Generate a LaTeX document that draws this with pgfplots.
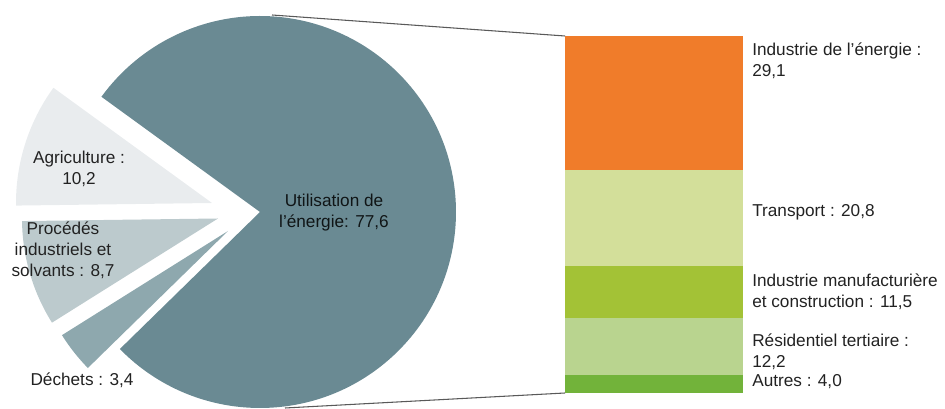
\documentclass[border=0pt]{standalone}
\usepackage{pgfplots}
\pgfplotsset{compat=1.18}
\usepackage{fontspec}
\setmainfont{Liberation Sans}
\definecolor{cMain}{HTML}{6A8A93}
\definecolor{cAgri}{HTML}{E9ECEE}
\definecolor{cProc}{HTML}{BCCACD}
\definecolor{cDech}{HTML}{8EA8AE}
\definecolor{cEner}{HTML}{F07C2A}
\definecolor{cTran}{HTML}{D3DF9A}
\definecolor{cManu}{HTML}{A3C236}
\definecolor{cResi}{HTML}{B9D48F}
\definecolor{cAutr}{HTML}{72B33A}
\definecolor{cText}{HTML}{222222}
\newcommand{\lbl}{\fontsize{12.9}{15.75}\selectfont}
\begin{document}
\begin{tikzpicture}
% pie values
\pgfmathsetmacro{\tot}{77.6+10.2+8.7+3.4}
\pgfmathsetmacro{\aA}{144}
\pgfmathsetmacro{\aB}{\aA+10.2/\tot*360}
\pgfmathsetmacro{\aC}{\aB+8.7/\tot*360}
\pgfmathsetmacro{\aD}{\aC+3.4/\tot*360}
\pgfmathsetmacro{\aE}{\aD+77.6/\tot*360}
\begin{axis}[x=0.75pt, y=0.75pt, xmin=0, xmax=945, ymin=0, ymax=409,
  hide axis, clip=false]
% connector lines
\draw[color=black!65, line width=0.8pt] (axis cs:272,394) -- (axis cs:565,373);
\draw[color=black!65, line width=0.8pt] (axis cs:285,1) -- (axis cs:565,16);
% pie slices
\fill[overlay, cMain] (axis cs:260,197) -- ++(\aD:147pt) arc[start angle=\aD, end angle=\aE, radius=147pt] -- cycle;
\fill[overlay, cAgri] (axis cs:212,206) -- ++(\aA:147pt) arc[start angle=\aA, end angle=\aB, radius=147pt] -- cycle;
\fill[overlay, cProc] (axis cs:218,190.5) -- ++(\aB:147pt) arc[start angle=\aB, end angle=\aC, radius=147pt] -- cycle;
\fill[overlay, cDech] (axis cs:228,178) -- ++(\aC:147pt) arc[start angle=\aC, end angle=\aD, radius=147pt] -- cycle;
% pie labels
\node[align=center, inner sep=0pt, text=cText, font=\lbl] at (axis cs:79,240.5) {Agriculture :\\10,2};
\node[align=center, inner sep=0pt, text=cText, font=\lbl] at (axis cs:63,159) {Procédés\\industriels et\\solvants : 8,7};
\node[align=center, inner sep=0pt, text=cText, font=\lbl] at (axis cs:82,29) {Déchets : 3,4};
\node[align=center, inner sep=0pt, text=black!85!cMain, font=\lbl] at (axis cs:334,196.5) {Utilisation de\\l'énergie: 77,6};
% bar labels
\node[align=left, anchor=west, inner sep=0pt, text=cText, font=\lbl] at (axis cs:752,348) {Industrie de l'énergie :\\29,1};
\node[align=left, anchor=west, inner sep=0pt, text=cText, font=\lbl] at (axis cs:752,197) {Transport : 20,8};
\node[align=left, anchor=west, inner sep=0pt, text=cText, font=\lbl] at (axis cs:752,117.5) {Industrie manufacturière\\et construction : 11,5};
\node[align=left, anchor=west, inner sep=0pt, text=cText, font=\lbl] at (axis cs:752,57.5) {Résidentiel tertiaire :\\12,2};
\node[align=left, anchor=west, inner sep=0pt, text=cText, font=\lbl] at (axis cs:752,27) {Autres : 4,0};
\end{axis}
\begin{axis}[at={(423.75pt,12pt)}, anchor=south west,
  width=133.5pt, height=267.75pt, scale only axis,
  xmin=-0.5, xmax=0.5, ymin=0, ymax=77.6, hide axis,
  ybar stacked, bar width=133.5pt]
\addplot[fill=cAutr, draw=none] coordinates {(0,4.0)};
\addplot[fill=cResi, draw=none] coordinates {(0,12.2)};
\addplot[fill=cManu, draw=none] coordinates {(0,11.5)};
\addplot[fill=cTran, draw=none] coordinates {(0,20.8)};
\addplot[fill=cEner, draw=none] coordinates {(0,29.1)};
\end{axis}
\pgfresetboundingbox
\path[use as bounding box] (0pt,0pt) rectangle (708.75pt,306.75pt);
\end{tikzpicture}
\end{document}
